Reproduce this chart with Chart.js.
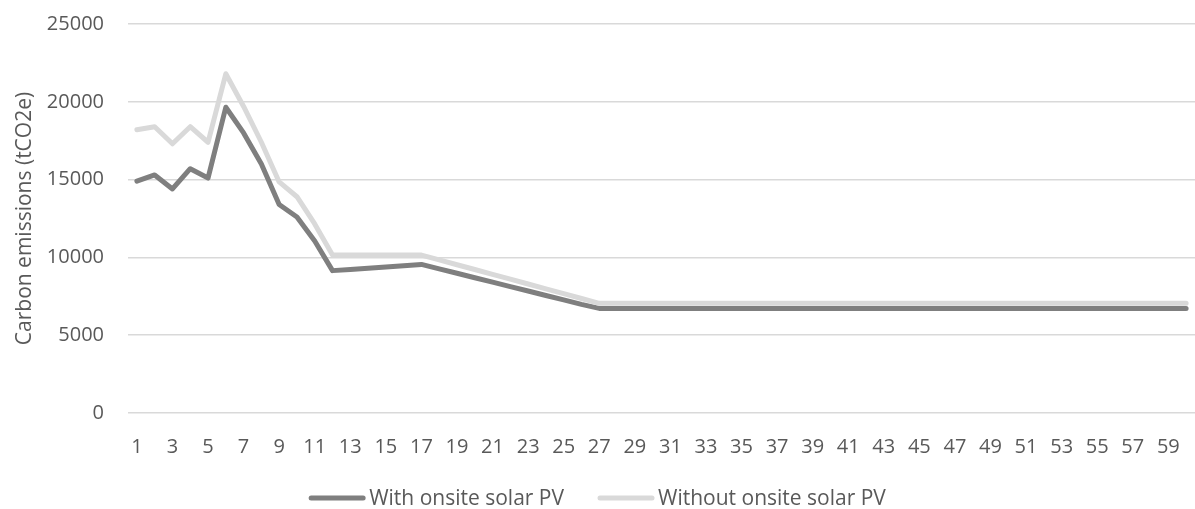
<!DOCTYPE html>
<html>
<head>
<meta charset="utf-8">
<script src="https://cdn.jsdelivr.net/npm/chart.js@4"></script>
<style>
    html, body { margin: 0; padding: 0; background: #ffffff; }
    #wrap { width: 1195px; height: 509px; }
</style>
</head>
<body>
<div id="wrap"><canvas id="emissions_chart"></canvas></div>
<script>
const years = [
    "1", "2", "3", "4", "5", "6", "7", "8", "9", "10",
    "11", "12", "13", "14", "15", "16", "17", "18", "19", "20",
    "21", "22", "23", "24", "25", "26", "27", "28", "29", "30",
    "31", "32", "33", "34", "35", "36", "37", "38", "39", "40",
    "41", "42", "43", "44", "45", "46", "47", "48", "49", "50",
    "51", "52", "53", "54", "55", "56", "57", "58", "59", "60"
];

const withSolar = [
    14900, 15300, 14400, 15700, 15100, 19650, 18000, 16000, 13400, 12600,
    11050, 9150, 9230, 9310, 9390, 9470, 9550, 9260, 8980, 8690,
    8410, 8120, 7840, 7550, 7270, 6980, 6720, 6720, 6720, 6720,
    6720, 6720, 6720, 6720, 6720, 6720, 6720, 6720, 6720, 6720,
    6720, 6720, 6720, 6720, 6720, 6720, 6720, 6720, 6720, 6720,
    6720, 6720, 6720, 6720, 6720, 6720, 6720, 6720, 6720, 6720
];

const withoutSolar = [
    18200, 18400, 17300, 18400, 17400, 21800, 19700, 17400, 14850, 13900,
    12150, 10150, 10150, 10150, 10150, 10150, 10150, 9840, 9530, 9220,
    8910, 8600, 8290, 7980, 7670, 7360, 7050, 7050, 7050, 7050,
    7050, 7050, 7050, 7050, 7050, 7050, 7050, 7050, 7050, 7050,
    7050, 7050, 7050, 7050, 7050, 7050, 7050, 7050, 7050, 7050,
    7050, 7050, 7050, 7050, 7050, 7050, 7050, 7050, 7050, 7050
];

const yTicks = [0, 5000, 10000, 15000, 20000, 25000];

const FONT = "'Open Sans', 'Noto Sans', sans-serif";
const TEXT_COLOR = "#595959";

// legend drawn by hand so the line sample sits right against the text
const lineLegend = {
    id: "lineLegend",
    afterDraw(chart) {
        const ctx = chart.ctx;
        const sets = chart.data.datasets;
        const sampleW = 56, gap = 4, itemGap = 34, y = 498;
        ctx.save();
        ctx.font = "21px " + FONT;
        ctx.textBaseline = "middle";
        const widths = sets.map(ds => sampleW + gap + ctx.measureText(ds.label).width);
        const total = widths.reduce((a, b) => a + b, 0) + itemGap * (sets.length - 1);
        let x = (chart.width - total) / 2;
        sets.forEach((ds, i) => {
            ctx.strokeStyle = ds.borderColor;
            ctx.lineWidth = 5;
            ctx.lineCap = "round";
            ctx.beginPath();
            ctx.moveTo(x + 2, y);
            ctx.lineTo(x + sampleW - 2, y);
            ctx.stroke();
            ctx.fillStyle = TEXT_COLOR;
            ctx.fillText(ds.label, x + sampleW + gap, y + 1);
            x += widths[i] + itemGap;
        });
        ctx.restore();
    }
};

new Chart(document.getElementById("emissions_chart"), {
    type: "line",
    data: {
        labels: years,
        datasets: [
            {
                label: "With onsite solar PV",
                data: withSolar,
                borderColor: "#7f7f7f",
                backgroundColor: "#7f7f7f",
                borderWidth: 5,
                order: 2,
            },
            {
                label: "Without onsite solar PV",
                data: withoutSolar,
                borderColor: "#d9d9d9",
                backgroundColor: "#d9d9d9",
                borderWidth: 5,
                order: 1,
            },
        ],
    },
    options: {
        responsive: true,
        maintainAspectRatio: false,
        animation: false,
        layout: { padding: { top: 24, right: 0, bottom: 0, left: 0 } },
        elements: {
            point: { radius: 0, hoverRadius: 0 },
            line: { tension: 0, borderCapStyle: "round", borderJoinStyle: "round" },
        },
        plugins: {
            legend: { display: false },
            tooltip: { enabled: false },
        },
        scales: {
            x: {
                offset: true,
                grid: { display: false, drawTicks: false },
                border: { display: false },
                ticks: {
                    autoSkip: false,
                    maxRotation: 0,
                    padding: 22,
                    color: TEXT_COLOR,
                    font: { family: FONT, size: 20 },
                    callback: (v, i) => (i % 2 === 0 ? years[i] : ""),
                },
                afterFit(scale) {
                    scale.height = 96;
                    scale.paddingRight = 0;
                    scale.paddingLeft = 0;
                },
            },
            y: {
                min: 0,
                max: 25000,
                afterBuildTicks(scale) { scale.ticks = yTicks.map(v => ({ value: v })); },
                grid: { color: "#d9d9d9", lineWidth: 1.5, drawTicks: false },
                border: { display: false },
                ticks: {
                    padding: 24,
                    color: TEXT_COLOR,
                    font: { family: FONT, size: 20 },
                    callback: v => String(v),
                },
                title: {
                    display: true,
                    text: "Carbon emissions (tCO2e)",
                    color: TEXT_COLOR,
                    font: { family: FONT, size: 21 },
                    padding: { top: 12, bottom: 0 },
                },
                afterFit(scale) {
                    scale.width = 128;
                    scale.paddingTop = 0;
                    scale.paddingBottom = 0;
                },
            },
        },
    },
    plugins: [lineLegend],
});
</script>
</body>
</html>
